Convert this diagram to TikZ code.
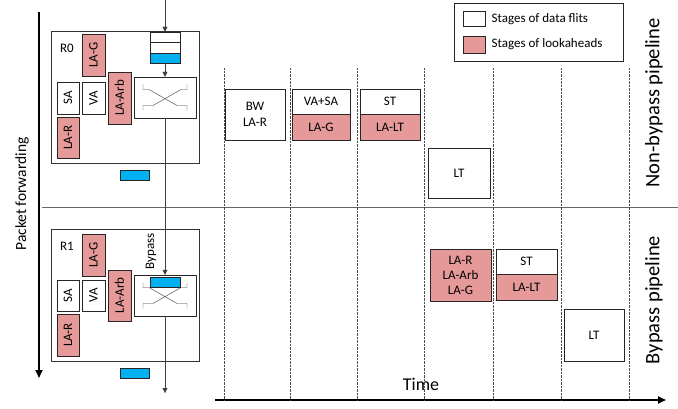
\documentclass[tikz,border=0pt]{standalone}
\usepackage{fontspec}
\setmainfont{Carlito}
\usepackage{xcolor}
\usetikzlibrary{arrows.meta,positioning,calc}
\definecolor{laPink}{RGB}{229,153,153}
\definecolor{pktBlue}{RGB}{0,176,240}
\tikzset{
    routerBox/.style={
        draw=black!80,
        minimum width=148pt,
        minimum height=132pt
    },
    unitBox/.style={
        draw=black!85,
        inner sep=0pt,
        font=\fontsize{13}{14}\selectfont,
        fill=white
    },
    laUnit/.style={
        unitBox,
        fill=laPink,
        rotate=90
    },
    stageBox/.style={
        draw=black!85,
        inner sep=0pt,
        align=center,
        font=\fontsize{13}{16}\selectfont,
        fill=white
    },
    laStage/.style={
        stageBox,
        fill=laPink
    },
    pktBox/.style={
        draw=black!85,
        fill=pktBlue,
        minimum width=30pt,
        minimum height=10pt,
        inner sep=0pt
    },
    flowArrow/.style={
        -{Triangle[length=5pt,width=5pt]},
        black!75
    },
    axisArrow/.style={
        -{Triangle[length=8pt,width=7pt]},
        line width=1.8pt
    },
    slotLine/.style={
        densely dotted,
        black!70
    },
    smallLabel/.style={
        font=\fontsize{13}{14}\selectfont
    }
}

\newcommand{\xbarlines}[1]{%
    \draw[black!80] ($(#1)+(-22,-13)$) -- ++(0,5) -- ++(6,0) -- ++(28,16) -- ++(10,0) -- ++(0,5);
    \draw[black!80] ($(#1)+(22,-13)$) -- ++(0,5) -- ++(-6,0) -- ++(-28,16) -- ++(-10,0) -- ++(0,5);
}

\begin{document}
\begin{tikzpicture}[x=1pt,y=-1pt]
    \useasboundingbox (0,0) rectangle (678,409);

    % axes
    \coordinate (pfTop) at (39,12);
    \coordinate (pfBot) at (39,378);
    \draw[axisArrow] (pfTop) -- (pfBot);
    \node[font=\fontsize{15.5}{17}\selectfont,rotate=90] (pfLabel) at (22,194) {Packet forwarding};
    \coordinate (tStart) at (215,400);
    \coordinate (tEnd) at (666,400);
    \draw[axisArrow] (tStart) -- (tEnd);
    \node[font=\fontsize{18}{19}\selectfont] (timeLabel) at (421,384) {Time};

    % separator
    \coordinate (sepL) at (42,207);
    \coordinate (sepR) at (678,207);
    \draw[black!60] (sepL) -- (sepR);

    % time slots
    \foreach \sx in {224,290,357,424,493,561,629}
        \draw[slotLine] (\sx,68) -- (\sx,400);

    % router R0
    \node[routerBox] (r0) at (125,97) {};
    \node[smallLabel] (r0name) at (67,48) {R0};
    \node[laUnit,minimum width=42pt,minimum height=23pt] (r0lag) at (93.5,55) {LA-G};
    \node[unitBox,rotate=90,minimum width=32pt,minimum height=22pt] (r0sa) at (68,98) {SA};
    \node[unitBox,rotate=90,minimum width=32pt,minimum height=23pt] (r0va) at (93.5,98) {VA};
    \node[laUnit,minimum width=52pt,minimum height=23pt] (r0arb) at (119.5,98) {LA-Arb};
    \node[laUnit,minimum width=41pt,minimum height=22pt] (r0lar) at (68,137.5) {LA-R};
    \node[draw=black!85,fill=white,minimum width=30pt,minimum height=31pt,inner sep=0pt] (r0buf) at (165,47.5) {};
    \fill[pktBlue] (150,53) rectangle (180,63);
    \draw[black!85] (150,42) -- (180,42);
    \draw[black!85] (150,53) -- (180,53);
    \draw[black!85] (150,32) rectangle (180,63);
    \node[draw=black!85,fill=white,minimum width=62pt,minimum height=41pt,inner sep=0pt] (r0xbar) at (165,97.5) {};
    \xbarlines{r0xbar}
    \node[pktBox,minimum width=29pt] (r0pkt) at (134.5,175) {};

    % router R1
    \node[routerBox] (r1) at (125,295) {};
    \node[smallLabel] (r1name) at (67,246) {R1};
    \node[laUnit,minimum width=42pt,minimum height=23pt] (r1lag) at (93.5,255) {LA-G};
    \node[unitBox,rotate=90,minimum width=31pt,minimum height=22pt] (r1sa) at (68,295.5) {SA};
    \node[unitBox,rotate=90,minimum width=31pt,minimum height=23pt] (r1va) at (93.5,295.5) {VA};
    \node[laUnit,minimum width=51pt,minimum height=23pt] (r1arb) at (119.5,295.5) {LA-Arb};
    \node[laUnit,minimum width=42pt,minimum height=22pt] (r1lar) at (68,335) {LA-R};
    \node[draw=black!85,fill=white,minimum width=62pt,minimum height=41pt,inner sep=0pt] (r1xbar) at (165,295.5) {};
    \xbarlines{r1xbar}
    \node[pktBox] (r1in) at (165,282) {};
    \node[smallLabel,rotate=90] (bypassLabel) at (151,251) {Bypass};
    \node[pktBox,minimum width=29pt] (r1pkt) at (134.5,373) {};

    % flit path
    \coordinate (flitIn) at (165,0);
    \coordinate (flitOut) at (165,393);
    \draw[flowArrow] (flitIn) -- (r0buf.north);
    \draw[flowArrow] (r0buf.south) -- (r0xbar.north);
    \draw[flowArrow] (r0xbar.south) -- (r1xbar.north);
    \draw[flowArrow] (r1xbar.south) -- (flitOut);

    % non-bypass pipeline
    \node[stageBox,minimum width=60pt,minimum height=51pt] (bw) at (255,114.5) {BW\\LA-R};
    \node[stageBox,minimum width=58pt,minimum height=25pt] (vasa) at (321,101.5) {VA+SA};
    \node[laStage,minimum width=58pt,minimum height=26pt,below=0pt of vasa] (lag) {LA-G};
    \node[stageBox,minimum width=60pt,minimum height=25pt] (st) at (390,101.5) {ST};
    \node[laStage,minimum width=60pt,minimum height=26pt,below=0pt of st] (lalt) {LA-LT};
    \node[stageBox,minimum width=62pt,minimum height=50pt] (lt) at (459,173) {LT};

    % bypass pipeline
    \node[laStage,minimum width=61pt,minimum height=52pt,font=\fontsize{13}{15}\selectfont] (lall) at (460.5,275) {LA-R\\LA-Arb\\LA-G};
    \node[stageBox,minimum width=61pt,minimum height=25pt] (bst) at (526.5,261.5) {ST};
    \node[laStage,minimum width=61pt,minimum height=26pt,below=0pt of bst] (blalt) {LA-LT};
    \node[stageBox,minimum width=60pt,minimum height=52pt] (blt) at (594,335) {LT};

    % pipeline labels
    \node[font=\fontsize{20.5}{22}\selectfont,rotate=90] (nbLabel) at (654,103) {Non-bypass pipeline};
    \node[font=\fontsize{20.5}{22}\selectfont,rotate=90] (bpLabel) at (654,300) {Bypass pipeline};

    % legend
    \node[draw=black!85,fill=white,minimum width=169pt,minimum height=58pt,inner sep=0pt] (legend) at (538.5,32) {};
    \node[stageBox,minimum width=22pt,minimum height=15pt] (keyData) at (474,19) {};
    \node[laStage,minimum width=22pt,minimum height=17pt] (keyLa) at (474,44.5) {};
    \node[smallLabel,right=3pt of keyData] (keyDataText) {Stages of data flits};
    \node[smallLabel,right=3pt of keyLa] (keyLaText) {Stages of lookaheads};
\end{tikzpicture}
\end{document}
